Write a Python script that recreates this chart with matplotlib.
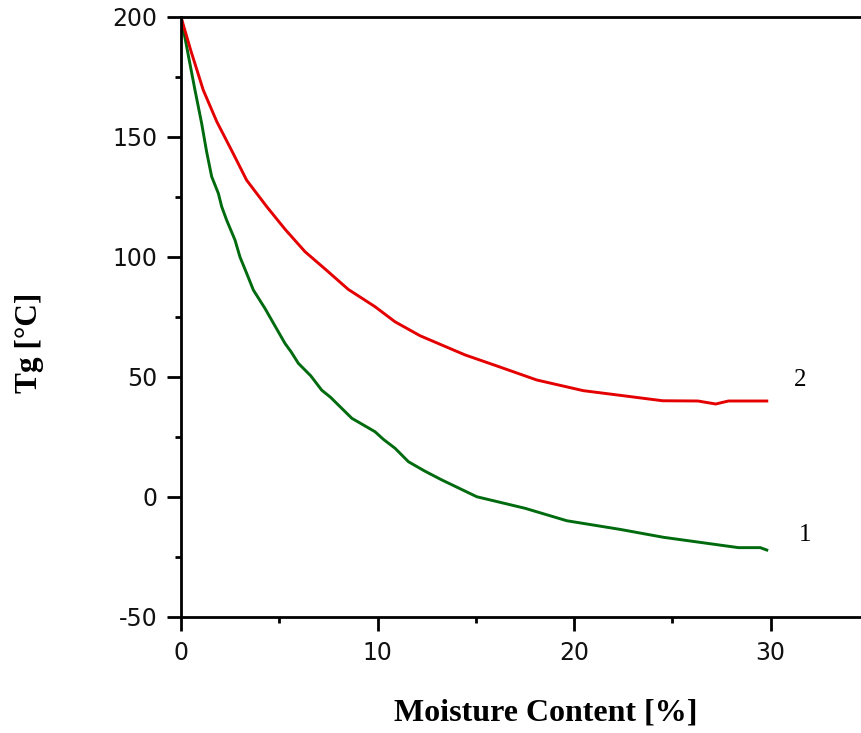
import matplotlib
matplotlib.use('Agg')
import matplotlib.pyplot as plt
from matplotlib.ticker import MultipleLocator

plt.rcParams['axes.unicode_minus'] = False

# curve 1 (green) - Tg vs moisture
moist_1 = [0, 0.35, 0.71, 1.05, 1.30, 1.56, 1.90, 2.07, 2.32, 2.75, 3.0, 3.34, 3.68,
           4.27, 4.8, 5.29, 5.6, 5.97, 6.6, 7.16, 7.6, 8.69, 9.87, 10.3, 10.89,
           11.57, 12.4, 13.27, 15.05, 17.5, 19.63, 22.34, 24.55, 28.36, 29.47, 29.8]
tg_1 = [200, 185, 169.6, 155.7, 144, 133.5, 126.5, 121, 115.4, 107, 100, 93.2, 86.25,
        78.6, 71, 64, 60.5, 55.7, 50.5, 44.5, 41.6, 32.8, 27.2, 24, 20.3,
        14.7, 10.8, 7.1, 0.1, -4.7, -9.9, -13.5, -16.8, -21.1, -21.1, -22.1]

# curve 2 (red)
moist_2 = [0, 0.5, 1.13, 1.82, 2.6, 3.34, 4.36, 5.3, 6.31, 7.4, 8.51, 9.87, 10.89,
           12.16, 14.45, 16.0, 18.1, 20.47, 22.5, 24.5, 26.3, 27.2, 27.85, 29.8]
tg_2 = [200, 186, 169.6, 156.4, 144, 132, 121, 111.5, 102.2, 94.5, 86.5, 79.3, 73,
        67.2, 59.2, 54.8, 48.75, 44.3, 42.2, 40.1, 40, 38.75, 40, 40]

curve_names = ['1', '2']
name_pos = [(31.75, -15.8), (31.5, 48.75)]

fig = plt.figure(figsize=(8.61, 7.33), dpi=100)
ax = fig.add_axes([181 / 861, 116 / 733, 688 / 861, 600 / 733])

ax.plot(moist_1, tg_1, color='#006a0e', lw=2.1, solid_joinstyle='round')
ax.plot(moist_2, tg_2, color='#e40000', lw=2.1, solid_joinstyle='round')

for name, (x, y) in zip(curve_names, name_pos):
    ax.text(x, y, name, fontsize=18, family='Liberation Serif', ha='center', va='center')

ax.set_xlim(0, 35)
ax.set_ylim(-50, 200)
ax.xaxis.set_major_locator(MultipleLocator(10))
ax.xaxis.set_minor_locator(MultipleLocator(5))
ax.yaxis.set_major_locator(MultipleLocator(50))
ax.yaxis.set_minor_locator(MultipleLocator(25))

for s in ['left', 'bottom', 'top']:
    ax.spines[s].set_linewidth(2.0)
ax.spines['right'].set_visible(False)

ax.tick_params(which='major', direction='out', length=10, width=2, labelsize=17,
               pad=7, top=False, right=False)
ax.tick_params(which='minor', direction='out', length=4, width=2, top=False, right=False)
for lbl in ax.get_xticklabels() + ax.get_yticklabels():
    lbl.set_family('DejaVu Sans')
    lbl.set_color('#111111')

fig.text(546 / 861, 1 - 713 / 733, 'Moisture Content [%]', fontsize=23,
         family='Liberation Serif', fontweight='bold', ha='center', va='center')
fig.text(30 / 861, 1 - 343 / 733, 'Tg [°C]', fontsize=22.5, rotation=90,
         family='Liberation Serif', fontweight='bold', ha='center', va='center')

fig.savefig('out.png', dpi=100, facecolor='white')
